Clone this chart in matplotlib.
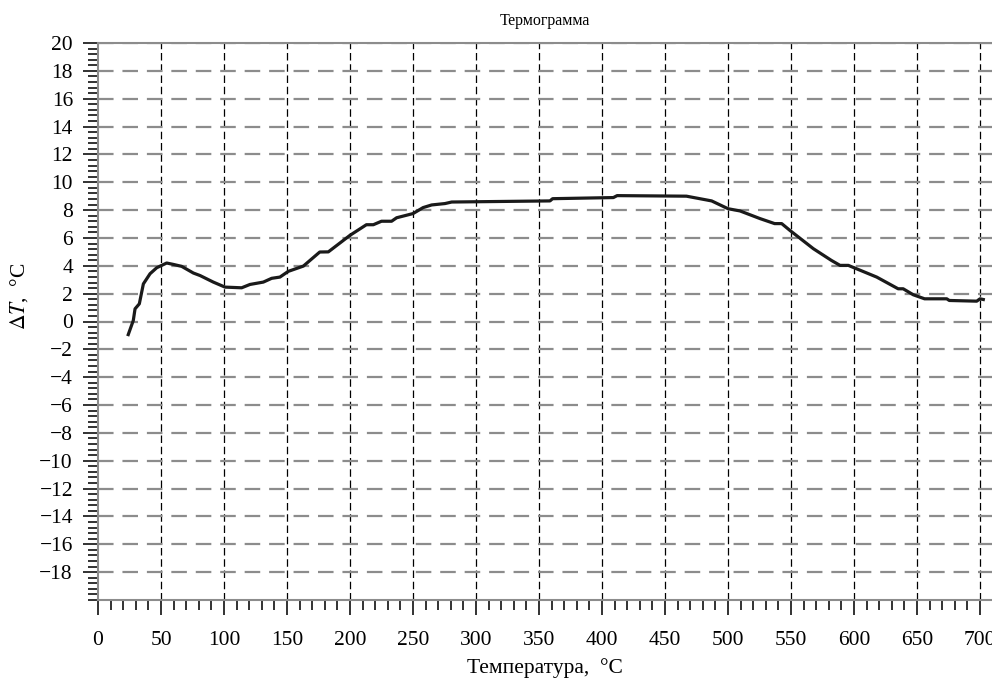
import numpy as np
import matplotlib.pyplot as plt
from matplotlib.ticker import MultipleLocator

plt.rcParams["font.family"] = ["Liberation Serif", "DejaVu Serif"]
plt.rcParams["mathtext.fontset"] = "stix"

# ---------------- data ----------------
temp = [24, 28, 29.4, 32.8, 36, 41.3, 46.6, 54.5, 59.8, 66.4, 75.7, 81, 91.5,
        100.8, 114, 120.6, 131.2, 137.8, 144.4, 151, 163, 176, 182.8, 200,
        213, 218.5, 225, 233, 237, 250, 258, 264.8, 275.4, 280.7, 358.7,
        360.8, 409, 412, 467, 487, 500, 509.5, 525.4, 537, 542.6, 549,
        567.7, 582, 588.9, 595.5, 618, 635, 639, 647, 656, 673.6, 675.6,
        697.4, 700, 702.6]
dT = [-0.94, 0.07, 0.91, 1.27, 2.7, 3.43, 3.86, 4.2, 4.1, 3.96, 3.48, 3.3,
      2.83, 2.47, 2.42, 2.66, 2.83, 3.1, 3.19, 3.6, 3.98, 4.99, 5.0, 6.19,
      6.95, 6.95, 7.2, 7.2, 7.45, 7.75, 8.18, 8.37, 8.47, 8.58, 8.66, 8.82,
      8.9, 9.04, 9.0, 8.66, 8.1, 7.94, 7.39, 7.03, 7.03, 6.55, 5.23, 4.39,
      4.03, 4.03, 3.19, 2.35, 2.35, 1.92, 1.63, 1.63, 1.51, 1.46, 1.63, 1.58]

x_ticks = np.arange(0, 701, 50)
y_ticks = np.arange(-18, 21, 2)

# --------------------------------------------------------------
fig = plt.figure(figsize=(9.92, 6.90), dpi=100)
ax = fig.add_axes([98 / 992, 90 / 690, 894 / 992, 557 / 690])

ax.plot(temp, dT, color="#1a1a1a", linewidth=2.3, solid_joinstyle="round")

ax.set_xlim(0, 709.5)
ax.set_ylim(-20, 20)
ax.set_xticks(x_ticks)
ax.set_yticks(y_ticks)
ax.xaxis.set_minor_locator(MultipleLocator(10))
ax.yaxis.set_minor_locator(MultipleLocator(0.4))

for v in x_ticks[1:]:
    ax.axvline(v, color="black", linewidth=0.9, linestyle=(0, (6, 3)), zorder=1)
for v in y_ticks:
    ax.axhline(v, color="#8c8c8c", linewidth=1.6, linestyle=(0, (7, 4)), zorder=1)

for s in ["left", "bottom", "top"]:
    ax.spines[s].set_color("#8c8c8c")
    ax.spines[s].set_linewidth(1.5)
ax.spines["right"].set_visible(False)

ax.tick_params(which="major", direction="out", length=11, width=1.3,
               color="#222222", labelsize=15.5)
ax.tick_params(which="minor", direction="out", length=7.5, width=1.3,
               color="#222222")
ax.tick_params(axis="x", pad=11)
ax.tick_params(axis="y", pad=7)

ax.set_title("Термограмма", fontsize=11.5, pad=13)
ax.set_xlabel("Температура,  °C", fontsize=15.5, labelpad=6)
ax.set_ylabel(r"$\Delta T$,  °C", fontsize=15.5)
ax.yaxis.set_label_coords(-0.076, 0.545)

plt.savefig("out.png", dpi=100)
